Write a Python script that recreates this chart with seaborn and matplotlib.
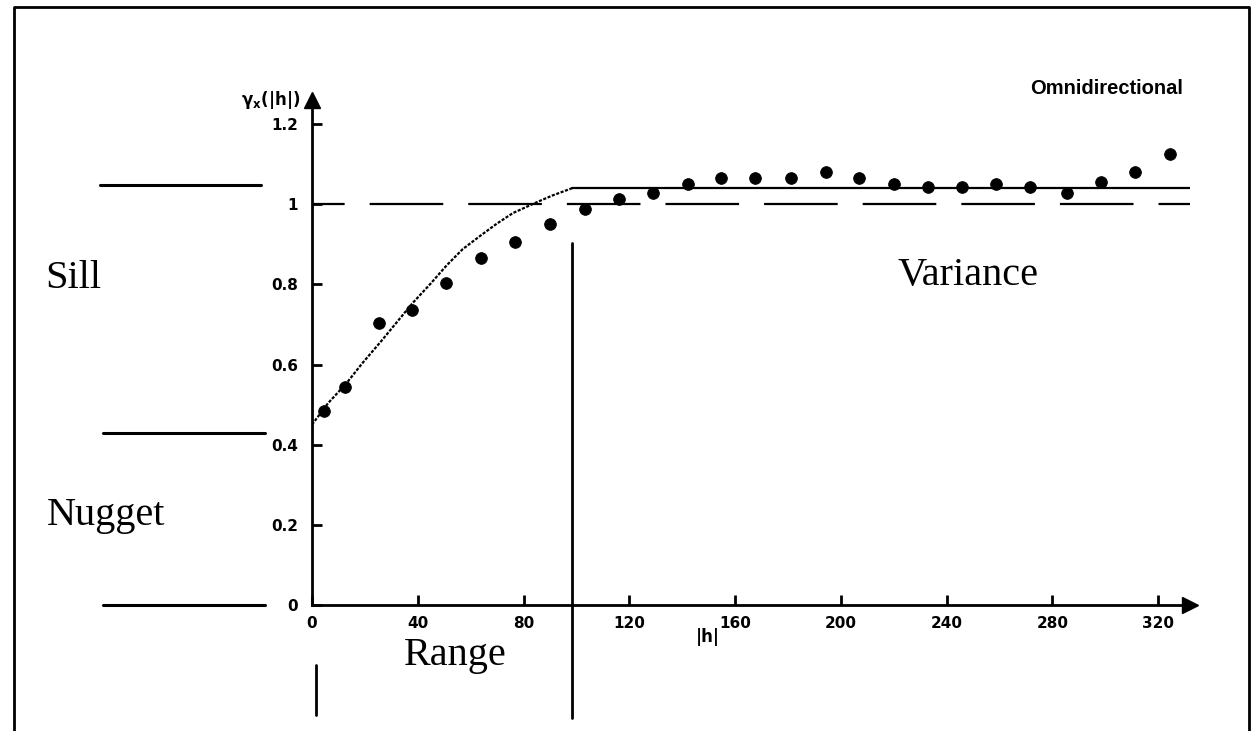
import numpy as np
import pandas as pd
import matplotlib as mpl
mpl.use("Agg")
from matplotlib import pyplot as plt
from matplotlib.lines import Line2D
import seaborn as sns

# experimental variogram (omnidirectional)
lag = [4.5, 12.5, 25.4, 37.9, 50.8, 64.0, 76.8, 90.1, 103.3, 116.2, 129.0, 142.0,
       154.8, 167.7, 181.3, 194.2, 207.0, 219.9, 232.8, 245.6, 258.5, 271.4,
       285.4, 298.3, 311.1, 324.4]
gamma = [0.484, 0.544, 0.703, 0.736, 0.803, 0.865, 0.905, 0.950, 0.987, 1.012,
         1.027, 1.050, 1.065, 1.065, 1.065, 1.080, 1.065, 1.050, 1.042, 1.042,
         1.050, 1.042, 1.027, 1.055, 1.080, 1.125]

# fitted model
model_h = [0, 6, 13, 19, 26, 32, 38, 45, 51, 57, 64, 70, 76, 85, 91, 98.4]
model_g = [0.450, 0.503, 0.553, 0.603, 0.657, 0.705, 0.753, 0.803, 0.848, 0.888,
           0.923, 0.952, 0.978, 1.005, 1.022, 1.040]

variance = 1.0
sill = 1.04
range_h = 98.4
h_max = 332
xticks = [0, 40, 80, 120, 160, 200, 240, 280, 320]
yticks = [0, 0.2, 0.4, 0.6, 0.8, 1.0, 1.2]
ytick_labels = ["0", "0.2", "0.4", "0.6", "0.8", "1", "1.2"]

pts = pd.DataFrame({"h": lag, "g": gamma})
model = pd.DataFrame({"h": model_h, "g": model_g})

sns.set_style("white")
plt.rcParams["text.color"] = "black"
W, H = 1253, 731
fig = plt.figure(figsize=(W / 100, H / 100), dpi=100)


def fx(px):
    return px / W


def fy(py):
    return 1 - py / H


ax = fig.add_axes([fx(312), fy(605), fx(1190) - fx(312), fy(100) - fy(605)])
ax.set_xlim(0, h_max)
ax.set_ylim(0, 1.26)

# reference lines
lw = 1.6
ax.plot([0, h_max], [variance, variance], color="black", lw=lw,
        ls=(29.5 / lw, (53 / lw, 18 / lw)))
ax.plot([range_h, h_max], [sill, sill], color="black", lw=lw)

sns.lineplot(data=model, x="h", y="g", ax=ax, color="black", lw=1.6,
             linestyle=(0, (1.4, 0.7)), sort=False)
sns.scatterplot(data=pts, x="h", y="g", ax=ax, color="black", s=70,
                marker="o", edgecolor="black", zorder=5)

# range line, running below the axis
ax.plot([range_h, range_h], [0.903, -0.282], color="black", lw=2, clip_on=False)

for side in ["top", "right"]:
    ax.spines[side].set_visible(False)
for side in ["left", "bottom"]:
    ax.spines[side].set_linewidth(2)
    ax.spines[side].set_color("black")

ax.set_xticks(xticks)
ax.set_xticklabels([str(t) for t in xticks])
ax.set_yticks(yticks)
ax.set_yticklabels(ytick_labels)
ax.tick_params(axis="both", direction="in", length=7, width=2, labelsize=11,
               color="black", labelcolor="black", bottom=True, left=True)
ax.tick_params(axis="x", pad=8)
ax.tick_params(axis="y", pad=10)
for lab in ax.get_xticklabels() + ax.get_yticklabels():
    lab.set_fontweight("bold")
ax.set_xlabel("")
ax.set_ylabel("")

# arrow heads on the axes
ax.plot(0, 1.0, marker="^", ms=12, color="black", transform=ax.transAxes, clip_on=False)
ax.plot(1.0, 0, marker=">", ms=12, color="black", transform=ax.transAxes, clip_on=False)

# axis titles
fig.text(fx(300), fy(100), r"$\mathbf{\gamma_x(|h|)}$", ha="right", va="center",
         fontsize=12, fontweight="bold")
fig.text(fx(708), fy(637), "|h|", ha="center", va="center", fontsize=12,
         fontweight="bold")
fig.text(fx(1183), fy(88), "Omnidirectional", ha="right", va="center",
         fontsize=14.5, fontweight="bold", family="Liberation Sans")

# annotations
serif = dict(family="Liberation Serif", fontsize=29, color="black")
fig.text(fx(45), fy(278), "Sill", ha="left", va="center", **serif)
fig.text(fx(47), fy(515), "Nugget", ha="left", va="center", **serif)
fig.text(fx(455), fy(655), "Range", ha="center", va="center", **serif)
fig.text(fx(968), fy(275), "Variance", ha="center", va="center", **serif)

for y0, x0, x1 in [(185, 100, 261), (433, 103, 265), (605, 103, 265)]:
    fig.add_artist(Line2D([fx(x0), fx(x1)], [fy(y0), fy(y0)], color="black", lw=2.2))
fig.add_artist(Line2D([fx(316), fx(316)], [fy(665), fy(715)], color="black", lw=2))

# frame around the figure
fig.add_artist(Line2D([fx(14), fx(14), fx(1249), fx(1249)],
                      [fy(731), fy(7), fy(7), fy(731)], color="black", lw=2))

fig.savefig("out.png", dpi=100)
